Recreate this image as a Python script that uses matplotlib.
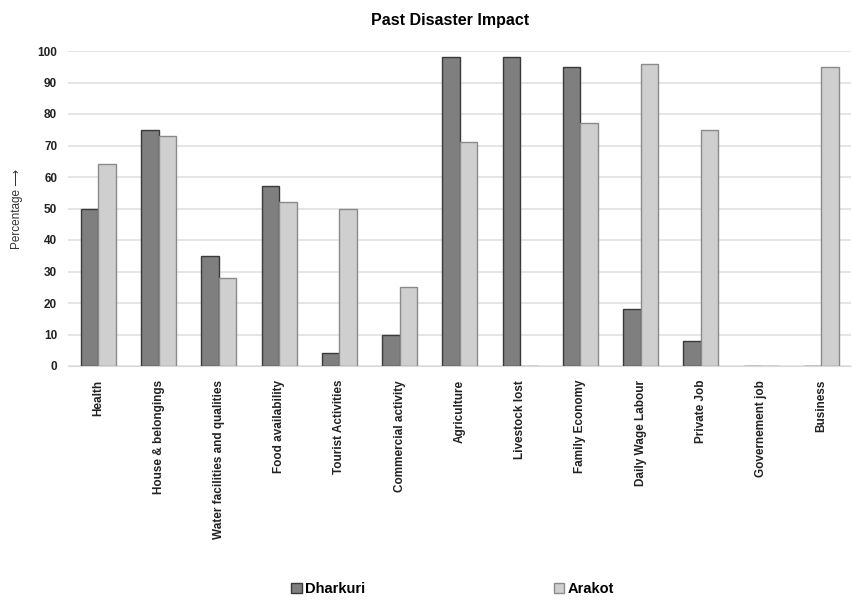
# Past disaster impact: grouped bars for Dharkuri and Arakot.

import numpy as np
import matplotlib.pyplot as plt

CATEGORIES = [
    "Health", "House & belongings", "Water facilities and qualities",
    "Food availability", "Tourist Activities", "Commercial activity",
    "Agriculture", "Livestock lost", "Family Economy", "Daily Wage Labour",
    "Private Job", "Governement job", "Business",
]
DHARKURI = [50, 75, 35, 57, 4, 10, 98, 98, 95, 18, 8, 0, 0]
ARAKOT = [64, 73, 28, 52, 50, 25, 71, 0, 77, 96, 75, 0, 95]
Y_TICKS = list(range(0, 101, 10))


def main():
    plt.rcParams["font.family"] = ["Liberation Sans", "DejaVu Sans"]
    fig = plt.figure(figsize=(8.54, 6.0), dpi=100)
    ax = fig.add_axes([0.08, 0.39, 0.917, 0.525])

    x = np.arange(len(CATEGORIES))
    width = 0.29
    # no outline on empty bars
    lw_d = [1.0 if v > 0 else 0 for v in DHARKURI]
    lw_a = [1.0 if v > 0 else 0 for v in ARAKOT]
    ax.bar(x - width / 2, DHARKURI, width, color="#7f7f7f",
           edgecolor="#3a3a3a", linewidth=lw_d, label="Dharkuri", zorder=3)
    ax.bar(x + width / 2, ARAKOT, width, color="#d0cfd0",
           edgecolor="#8a8a8a", linewidth=lw_a, label="Arakot", zorder=3)

    ax.set_xlim(-0.5, len(CATEGORIES) - 0.5)
    ax.set_ylim(0, 100)
    ax.set_yticks(Y_TICKS)
    ax.set_xticks(x)
    ax.set_xticklabels(CATEGORIES, rotation=90, fontsize=8.5,
                       fontweight="bold", color="#222222")
    ax.tick_params(axis="y", labelsize=8.5, length=0, pad=8,
                   labelcolor="#222222")
    for lbl in ax.get_yticklabels():
        lbl.set_fontweight("bold")
    ax.tick_params(axis="x", length=0, pad=10)

    ax.grid(axis="y", color="#e0e0e0", linewidth=1.2, zorder=0)
    for side in ["top", "right", "left"]:
        ax.spines[side].set_visible(False)
    ax.spines["bottom"].set_color("#d9d9d9")

    ax.set_ylabel("Percentage \u27f6", fontsize=8.5, color="#333333",
                  labelpad=10)

    fig.text(450 / 854, 1 - 20 / 600, "Past Disaster Impact",
             ha="center", va="center", fontsize=11.5, fontweight="bold")

    handles, labels = ax.get_legend_handles_labels()
    for h in handles:
        for p in h.patches:
            p.set_linewidth(1.0)
    fig.legend(handles, labels, loc="center", bbox_to_anchor=(0.53, 0.018),
               ncol=2, frameon=False, columnspacing=13, handlelength=0.7,
               handleheight=0.7, handletextpad=0.2,
               prop={"weight": "bold", "size": 10.5})

    fig.savefig("out.png", dpi=100)


if __name__ == "__main__":
    main()
